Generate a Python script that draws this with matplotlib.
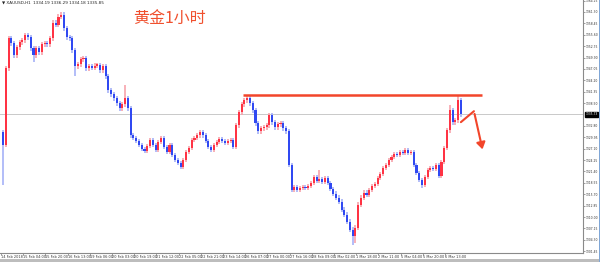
import matplotlib
matplotlib.use('Agg')
import matplotlib.pyplot as plt
from matplotlib.patches import FancyArrowPatch, Rectangle

plt.rcParams['font.family'] = ['DejaVu Sans']

# ---------------- data (XAUUSD, 2-hour samples) ----------------
first_open = 1331.24
closes = [
    1328.00, 1347.20, 1354.68, 1353.43, 1350.44, 1352.43, 1353.68, 1354.18, 1355.42, 1354.93,
    1352.18, 1350.44, 1352.18, 1351.19, 1353.18, 1353.43, 1353.20, 1354.68, 1358.67, 1358.17,
    1360.16, 1360.66, 1357.17, 1354.93, 1354.68, 1351.68, 1347.70, 1348.19, 1349.44, 1349.69,
    1347.20, 1347.70, 1347.40, 1347.90, 1347.95, 1346.70, 1347.70, 1345.20, 1341.71, 1340.72,
    1339.72, 1338.47, 1337.23, 1338.22, 1339.72, 1337.23, 1330.49, 1329.75, 1329.00, 1328.00,
    1327.00, 1326.51, 1327.75, 1329.25, 1328.00, 1326.75, 1328.75, 1329.75, 1327.50, 1326.26,
    1328.00, 1325.51, 1324.26, 1323.51, 1322.52, 1324.26, 1326.26, 1327.25, 1329.25, 1329.75,
    1330.49, 1331.24, 1330.49, 1329.00, 1327.50, 1326.75, 1328.00, 1328.75, 1329.50, 1329.00,
    1328.50, 1329.00, 1329.25, 1327.50, 1332.99, 1336.23, 1338.22, 1339.22, 1339.72, 1338.47,
    1336.73, 1333.49, 1331.49, 1332.24, 1332.49, 1332.99, 1335.48, 1333.74, 1332.49, 1333.24,
    1333.49, 1332.24, 1331.49, 1323.02, 1316.78, 1317.53, 1316.78, 1317.28, 1317.53, 1317.28,
    1317.78, 1318.53, 1320.02, 1319.03, 1319.53, 1318.78, 1319.77, 1318.53, 1317.03, 1315.79,
    1314.79, 1313.79, 1311.80, 1310.55, 1308.81, 1306.81, 1305.32, 1307.31, 1313.04, 1314.79,
    1316.04, 1315.54, 1316.78, 1317.78, 1318.28, 1319.77, 1320.77, 1322.27, 1323.02, 1324.26,
    1325.01, 1325.76, 1325.51, 1326.26, 1326.00, 1326.75, 1326.01, 1326.26, 1323.02, 1321.02,
    1319.28, 1318.03, 1320.02, 1321.77, 1322.27, 1322.00, 1323.02, 1320.27, 1323.76, 1327.25,
    1331.74, 1336.73, 1333.74, 1334.23, 1339.22, 1335.73,
]
wick_highs = {21: 1361.40, 44: 1342.96, 88: 1340.47, 114: 1321.77, 161: 1338.0, 164: 1340.47}
wick_lows = {0: 1318.03, 11: 1348.70, 26: 1345.20, 126: 1303.07, 127: 1303.57, 151: 1317.28}
wick_pad = 0.6

time_labels = [
    "14 Feb 2018", "15 Feb 04:00", "15 Feb 20:00", "16 Feb 13:00", "19 Feb 06:00",
    "20 Feb 03:00", "20 Feb 19:00", "21 Feb 12:00", "22 Feb 05:00", "22 Feb 21:00",
    "23 Feb 14:00", "26 Feb 07:00", "27 Feb 00:00", "27 Feb 16:00", "28 Feb 09:00",
    "1 Mar 02:00", "1 Mar 18:00", "2 Mar 11:00", "5 Mar 04:00", "5 Mar 20:00",
    "6 Mar 13:00",
]
bars_per_label = 8

price_ticks = [
    "1301.45", "1304.30", "1307.15", "1310.00", "1312.85", "1315.70", "1318.55", "1321.40",
    "1324.25", "1327.10", "1329.95", "1332.80", "1338.50", "1341.35", "1344.20",
    "1347.05", "1349.90", "1352.75", "1355.60", "1358.45", "1361.30", "1364.15",
]

resistance_level = 1340.6
resistance_span = (86.5, 172.6)
arrow_path_x = [165.0, 169.7, 173.0]
arrow_path_y = [1333.74, 1336.48, 1326.26]

title = "黄金1小时"
header = "▼ XAUUSD,H1  1334.19 1336.29 1334.18 1335.85"

# ---------------- drawing ----------------
W, H = 600, 262
fig = plt.figure(figsize=(W / 100, H / 100), dpi=100)
ax = fig.add_axes([0, 9 / H, 583 / W, 253 / H])

up_c, dn_c = '#FF3344', '#3049F2'
up_w, dn_w = '#F7A3AB', '#A6B2F7'

opens = [first_open] + closes[:-1]
for i, (o, c) in enumerate(zip(opens, closes)):
    up = c >= o
    hi = wick_highs.get(i, max(o, c) + wick_pad)
    lo = wick_lows.get(i, min(o, c) - wick_pad)
    ax.vlines(i, lo, hi, color=up_w if up else dn_w, lw=1.2, zorder=2)
    ax.bar(i, max(abs(c - o), 0.3), bottom=min(o, c), width=0.75,
           color=up_c if up else dn_c, linewidth=0, zorder=3)

last = closes[-1]
ax.axhline(last, color='#C9C9C9', lw=0.7, zorder=1)

ax.hlines(resistance_level, *resistance_span, color='#F2452A', lw=1.8, zorder=4)
ax.plot(arrow_path_x[:2], arrow_path_y[:2], color='#F2452A', lw=1.5, zorder=4,
        solid_capstyle='round')
arr = FancyArrowPatch((arrow_path_x[1], arrow_path_y[1]), (arrow_path_x[2], arrow_path_y[2]),
                      arrowstyle='-|>,head_length=4,head_width=2.6', color='#F2452A',
                      lw=1.5, mutation_scale=1, zorder=4)
ax.add_patch(arr)

ax.set_xlim(-1.08, 209.0)
ax.set_ylim(1301.0, 1364.3)

# x ticks
xt = [k * bars_per_label - 0.72 for k in range(len(time_labels))]
ax.set_xticks(xt)
ax.set_xticklabels(time_labels, fontsize=2.5, color='#333333', ha='left')
# y ticks
ax.yaxis.tick_right()
ax.set_yticks([float(t) for t in price_ticks])
ax.set_yticklabels(price_ticks, fontsize=2.2, color='#333333')
ax.tick_params(axis='both', length=1.2, width=0.5, color='#777777', pad=0.6)

for s in ['top', 'left']:
    ax.spines[s].set_visible(False)
for s in ['right', 'bottom']:
    ax.spines[s].set_color('#8a8a8a')
    ax.spines[s].set_linewidth(0.8)

# current price box
ax.text(1.004, last, f"{last:.2f}", transform=ax.get_yaxis_transform(),
        fontsize=2.2, color='white', va='center', ha='left',
        bbox=dict(boxstyle='square,pad=0.2', fc='black', ec='black'), zorder=6)

# header and title
fig.text(2 / W, 1 - 3 / H, header, fontsize=3.0, color='#222222', va='center', ha='left')
fig.text(169 / W, 1 - 18 / H, title, fontsize=11.5, color='#F0502E', va='center',
         ha='center', family=['Noto Sans CJK SC', 'DejaVu Sans'])

# frame bits of the screenshot
fig.patches.append(Rectangle((0, 0), 1, 3 / H, transform=fig.transFigure,
                             fc='#BDBDBD', ec='none'))
fig.patches.append(Rectangle((598.5 / W, 0), 1.5 / W, 1, transform=fig.transFigure,
                             fc='#7FA6D6', ec='none'))

fig.savefig('out.png', dpi=100)
